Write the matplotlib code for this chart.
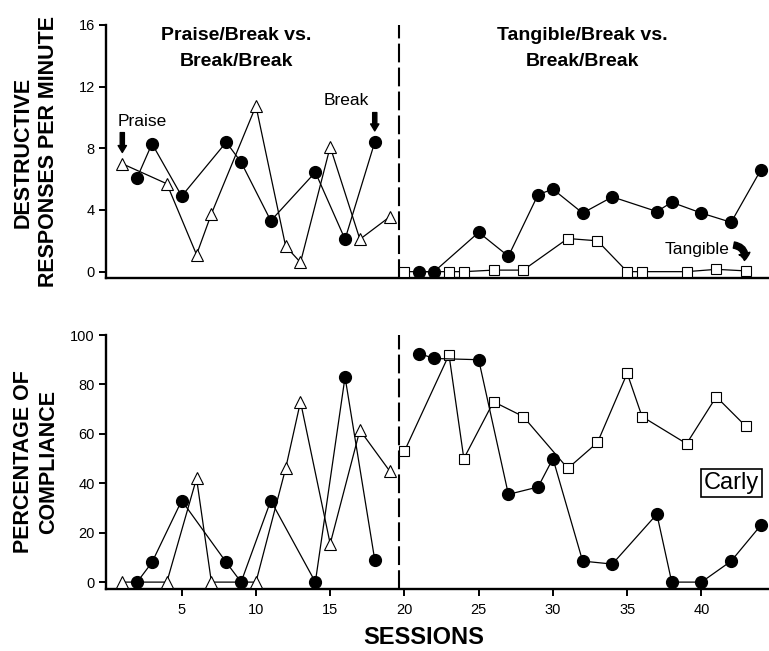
import matplotlib
matplotlib.use("Agg")
import matplotlib.pyplot as plt
from matplotlib.patches import FancyArrowPatch

plt.rcParams['font.family'] = ['Liberation Sans', 'DejaVu Sans']

# Praise/Break phase: praise (triangles) and break (circles)
praise_sess = [1, 4, 6, 7, 10, 12, 13, 15, 17, 19]
praise_dest = [7.0, 5.7, 1.1, 3.75, 10.75, 1.65, 0.6, 8.1, 2.1, 3.55]
praise_comp = [0, 0, 42, 0, 0, 46, 73, 15.5, 61.5, 45]
break1_sess = [2, 3, 5, 8, 9, 11, 14, 16, 18]
break1_dest = [6.1, 8.3, 4.9, 8.4, 7.1, 3.3, 6.45, 2.1, 8.4]
break1_comp = [0, 8, 33, 8, 0, 33, 0, 83, 9]

# Tangible/Break phase: tangible (squares) and break (circles)
tang_sess = [20, 23, 24, 26, 28, 31, 33, 35, 36, 39, 41, 43]
tang_dest = [0, 0, 0, 0.1, 0.1, 2.15, 2.0, 0, 0, 0, 0.15, 0.05]
tang_comp = [53, 92, 50, 73, 67, 46, 56.5, 84.5, 67, 56, 75, 63]
break2_sess = [21, 22, 25, 27, 29, 30, 32, 34, 37, 38, 40, 42, 44]
break2_dest = [0, 0, 2.55, 1.0, 5.0, 5.35, 3.8, 4.85, 3.9, 4.5, 3.8, 3.2, 6.6]
break2_comp = [92.5, 90.5, 90, 35.5, 38.5, 50, 8.5, 7.3, 27.5, 0, 0, 8.5, 23]

x_ticks = [5, 10, 15, 20, 25, 30, 35, 40]
dest_ticks = [0, 4, 8, 12, 16]
comp_ticks = [0, 20, 40, 60, 80, 100]
phase_change = 19.6

fig = plt.figure(figsize=(7.69, 6.51), dpi=100)
ax1 = fig.add_axes([0.1378, 0.5730, 0.8622, 0.3886])
ax2 = fig.add_axes([0.1378, 0.0952, 0.8622, 0.3902])

circ = dict(color='black', marker='o', markersize=8.5, lw=0.9,
            markerfacecolor='black', zorder=3)
tri = dict(color='black', marker='^', markersize=8.5, lw=0.9,
           markerfacecolor='white', markeredgewidth=0.8, zorder=3)
sq = dict(color='black', marker='s', markersize=6.5, lw=0.9,
          markerfacecolor='white', markeredgewidth=0.8, zorder=3)

ax1.plot(praise_sess, praise_dest, **tri)
ax1.plot(break1_sess, break1_dest, **circ)
ax1.plot(tang_sess, tang_dest, **sq)
ax1.plot(break2_sess, break2_dest, **circ)

ax2.plot(praise_sess, praise_comp, **tri)
ax2.plot(break1_sess, break1_comp, **circ)
ax2.plot(tang_sess, tang_comp, **sq)
ax2.plot(break2_sess, break2_comp, **circ)

for ax in (ax1, ax2):
    ax.set_xlim(-0.1, 44.55)
    for s in ('top', 'right'):
        ax.spines[s].set_visible(False)
    for s in ('left', 'bottom'):
        ax.spines[s].set_linewidth(1.7)
    ax.axvline(phase_change, color='black', lw=1.5, linestyle=(0, (9, 2.5)))
    ax.tick_params(axis='y', direction='out', length=5, width=1.4,
                   labelsize=10.5, pad=3)

ax1.set_ylim(-0.41, 16)
ax1.set_yticks(dest_ticks)
ax1.set_xticks([])

ax2.set_ylim(-2.8, 100)
ax2.set_yticks(comp_ticks)
ax2.set_xticks(x_ticks)
ax2.tick_params(axis='x', direction='out', length=5, width=1.4,
                labelsize=10.5, pad=5)

# phase titles
ax1.text(8.7, 15.9, "Praise/Break vs.\nBreak/Break", ha='center', va='top',
         fontsize=14, fontweight='bold', linespacing=1.7)
ax1.text(32.0, 15.9, "Tangible/Break vs.\nBreak/Break", ha='center', va='top',
         fontsize=14, fontweight='bold', linespacing=1.7)

# arrows
arrow_kw = dict(arrowstyle='simple,head_width=0.6,head_length=0.5,tail_width=0.3',
                color='black')
ax1.annotate("", xy=(praise_sess[0], 7.55), xytext=(praise_sess[0], 9.2),
             arrowprops=arrow_kw)
ax1.text(0.7, 9.75, "Praise", fontsize=12.5, ha='left', va='center')
ax1.annotate("", xy=(break1_sess[-1], 8.95), xytext=(break1_sess[-1], 10.5),
             arrowprops=arrow_kw)
ax1.text(17.6, 11.1, "Break", fontsize=12.5, ha='right', va='center')
ax1.text(41.9, 1.45, "Tangible", fontsize=12.5, ha='right', va='center')
ax1.add_patch(FancyArrowPatch((42.0, 1.75), (42.85, 0.55),
                              connectionstyle="arc3,rad=-0.6",
                              arrowstyle='simple,head_width=0.8,head_length=0.5,tail_width=0.45',
                              color='black', mutation_scale=10))

ax2.text(42.0, 40, "Carly", fontsize=17, ha='center', va='center',
         bbox=dict(boxstyle='square,pad=0.12', fc='white', ec='black', lw=1.2))

fig.text(36 / 769, 1 - 152 / 651, "DESTRUCTIVE\nRESPONSES PER MINUTE",
         rotation=90, ha='center', va='center', fontsize=15.5,
         fontweight='bold', linespacing=1.3, multialignment='center')
fig.text(36 / 769, 1 - 462 / 651, "PERCENTAGE OF\nCOMPLIANCE",
         rotation=90, ha='center', va='center', fontsize=15.5,
         fontweight='bold', linespacing=1.3, multialignment='center')
fig.text(424 / 769, 1 - 638 / 651, "SESSIONS", ha='center', va='center',
         fontsize=17, fontweight='bold')

fig.savefig("out.png", dpi=100, facecolor='white')
